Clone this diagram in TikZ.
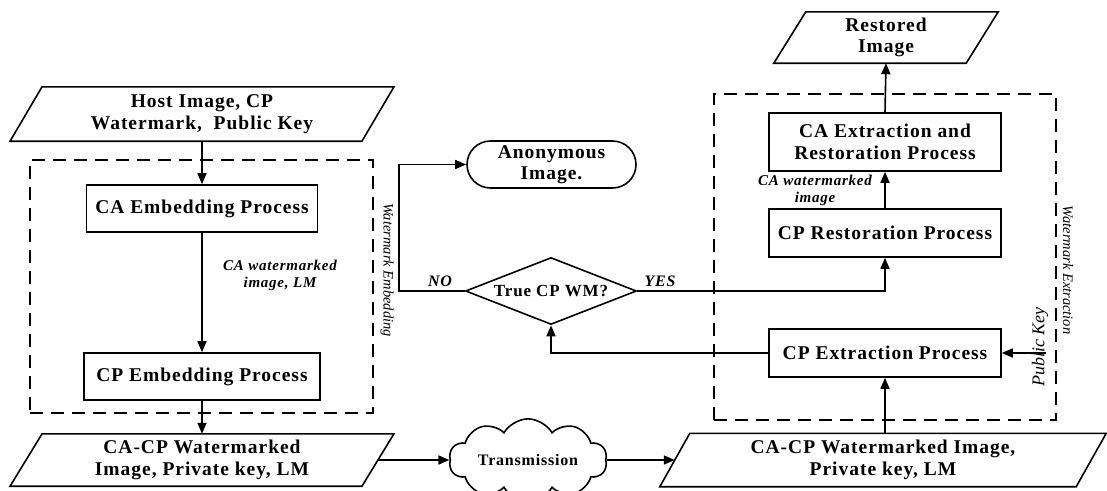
\documentclass[tikz,border=0pt]{standalone}
\usepackage{fontspec}
\setmainfont{Liberation Serif}
\newfontfamily\lsf[LetterSpace=5]{Liberation Serif}
\usetikzlibrary{arrows.meta,shapes.geometric,shapes.misc,shapes.symbols}
\newcommand\paral[2]{\draw[ln] ([xshift=#2]#1.north west) -- ([xshift=#2]#1.north east) -- ([xshift=-#2]#1.south east) -- ([xshift=-#2]#1.south west) -- cycle;}
\begin{document}
\begin{tikzpicture}[x=1pt,y=-1pt,
  ln/.style={line width=1.6pt},
  arr/.style={ln,-{Triangle[length=11pt,width=9pt]}},
  bigfont/.style={font=\lsf\fontsize{19.5}{21.5}\selectfont\bfseries},
  procbox/.style={draw,ln,rectangle,inner sep=0pt,align=center,bigfont},
  ptext/.style={inner sep=0pt,align=center,bigfont},
  dbox/.style={draw,line width=1.6pt,dash pattern=on 13pt off 8pt,inner sep=0pt},
  lab/.style={font=\lsf\fontsize{15}{17}\selectfont\bfseries\itshape,align=center,inner sep=0pt},
  side/.style={font=\fontsize{14.5}{16}\selectfont\itshape,inner sep=0pt},
  yn/.style={font=\lsf\fontsize{16}{18}\selectfont\bfseries\itshape,inner sep=0pt}]
\useasboundingbox (0,0) rectangle (1107,490);

% dashed frames
\node[dbox,minimum width=343pt,minimum height=253pt] (emb) at (201.5,286.5) {};
\node[dbox,minimum width=342pt,minimum height=326pt] (ext) at (885,257) {};

% left column
\node[ptext,minimum width=351.5pt,minimum height=54pt] (host) at (202,114) {Host Image, CP\\Watermark,\ \ Public Key};
\paral{host}{16pt}
\node[procbox,minimum width=231pt,minimum height=47pt] (caemb) at (202,208.5) {CA Embedding Process};
\node[procbox,minimum width=236pt,minimum height=47pt] (cpemb) at (202,376.5) {CP Embedding Process};
\node[ptext,minimum width=351.5pt,minimum height=52pt] (bl) at (202,460) {CA-CP Watermarked\\Image, Private key, LM};
\paral{bl}{16pt}

% middle
\node[cloud,draw,ln,cloud puffs=10,cloud puff arc=120,aspect=2.5,minimum width=158pt,minimum height=56pt,inner sep=2pt,font=\lsf\fontsize{16}{18}\selectfont\bfseries] (cloud) at (528,460) {Transmission};
\node[diamond,draw,ln,aspect=2.55,inner sep=0pt,minimum width=171pt,minimum height=67pt,font=\lsf\fontsize{17}{19}\selectfont\bfseries] (dia) at (551,291) {True CP WM?};
\node[rounded rectangle,draw,ln,minimum width=169pt,minimum height=47pt,inner sep=0pt,align=center,bigfont] (anon) at (551.5,164.5) {Anonymous\\Image.};

% right column
\node[ptext,minimum width=192pt,minimum height=51pt] (rest) at (886,37.5) {Restored\\Image};
\paral{rest}{16pt}
\node[procbox,minimum width=232pt,minimum height=58pt] (caext) at (885,142) {CA Extraction and\\Restoration Process};
\node[procbox,minimum width=232pt,minimum height=48pt] (cpres) at (885,233) {CP Restoration Process};
\node[procbox,minimum width=232pt,minimum height=48pt] (cpext) at (885,353) {CP Extraction Process};
\node[ptext,minimum width=416pt,minimum height=53pt] (br) at (883,460) {CA-CP Watermarked Image,\\Private key, LM};
\paral{br}{15pt}
\coordinate (pk) at (1046,353);

% connectors
\draw[arr] (host.south) -- (caemb.north);
\draw[arr] (caemb.south) -- (cpemb.north);
\draw[arr] (cpemb.south) -- (bl.north);
\draw[arr] (bl.east) -- (bl.east -| cloud.west);
\draw[arr] (cloud.east) -- (cloud.east -| br.west);
\draw[arr] (cpext.south |- br.north) -- (cpext.south);
\draw[arr] (pk) -- (cpext.east);
\draw[arr] (cpext.west) -| (dia.south);
\draw[arr] (dia.east) -| (cpres.south);
\draw[arr] (cpres.north) -- (caext.south);
\draw[arr] (caext.north) -- (rest.south);
\draw[arr] (dia.west) -- ++(-66,0) |- (anon.west);

% labels
\node[lab] (l1) at (280,275) {CA watermarked\\image, LM};
\node[lab] (l2) at (815,190) {CA watermarked\\image};
\node[yn] (no) at (440,281) {NO};
\node[yn] (yes) at (660,281) {YES};
\node[side,rotate=-90] (we) at (387,270) {Watermark Embedding};
\node[side,rotate=-90] (wx) at (1068,270) {Watermark Extraction};
\node[font=\fontsize{18}{20}\selectfont\itshape,inner sep=0pt,rotate=90] (pkl) at (1040,347) {Public Key};
\end{tikzpicture}
\end{document}
